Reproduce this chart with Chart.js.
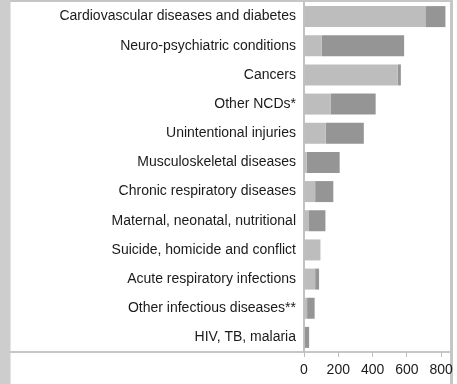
<!DOCTYPE html>
<html>
<head>
<meta charset="utf-8">
<script src="https://cdn.jsdelivr.net/npm/chart.js@4.4.0/dist/chart.umd.min.js"></script>
<style>
    html, body { margin: 0; padding: 0; background: #fff; }
    #wrap { width: 457px; height: 384px; position: relative; }
</style>
</head>
<body>
<div id="wrap"><canvas id="burden-chart" width="457" height="384"></canvas></div>
<script>
const causes = [
    'Cardiovascular diseases and diabetes',
    'Neuro-psychiatric conditions',
    'Cancers',
    'Other NCDs*',
    'Unintentional injuries',
    'Musculoskeletal diseases',
    'Chronic respiratory diseases',
    'Maternal, neonatal, nutritional',
    'Suicide, homicide and conflict',
    'Acute respiratory infections',
    'Other infectious diseases**',
    'HIV, TB, malaria'
];
const yearsLost = [708, 104, 547, 157, 127, 16, 65, 29, 96, 65, 18, 5];
const yearsDisabled = [117, 480, 18, 261, 222, 192, 106, 96, 0, 23, 44, 25];
const xTicks = [0, 200, 400, 600, 800];

// grey frame: left strip, top rule, right rule and the line above the axis
const framePlugin = {
    id: 'frame',
    beforeDraw(chart) {
        const ctx = chart.ctx;
        const bottom = chart.chartArea.bottom;
        ctx.save();
        ctx.fillStyle = '#ffffff';
        ctx.fillRect(0, 0, chart.width, chart.height);
        ctx.fillStyle = '#cdcdcd';
        ctx.fillRect(0, 0, 10, chart.height);
        ctx.fillStyle = '#e4e4e4';
        ctx.fillRect(10, 0, 1, chart.height);
        ctx.fillStyle = '#c6c6c6';
        ctx.fillRect(10, 0, 443, 2);
        ctx.fillRect(450, 0, 3, chart.height);
        ctx.fillRect(10, bottom - 1, 440, 2);
        ctx.restore();
    }
};

new Chart(document.getElementById('burden-chart'), {
    type: 'bar',
    data: {
        labels: causes,
        datasets: [{
            label: 'Years of life lost',
            data: yearsLost,
            backgroundColor: '#bdbdbd',
            borderWidth: 0,
            barPercentage: 0.72,
            categoryPercentage: 1
        }, {
            label: 'Years lived with disability',
            data: yearsDisabled,
            backgroundColor: '#959595',
            borderWidth: 0,
            barPercentage: 0.72,
            categoryPercentage: 1
        }]
    },
    options: {
        indexAxis: 'y',
        responsive: false,
        animation: false,
        layout: { padding: { top: 2, right: 9, left: 0, bottom: 0 } },
        plugins: {
            legend: { display: false },
            tooltip: { enabled: false }
        },
        scales: {
            x: {
                stacked: true,
                min: 0,
                max: 840,
                afterBuildTicks: scale => {
                    scale.ticks = xTicks.map(v => ({ value: v }));
                },
                afterFit: scale => {
                    scale.height = 32;
                    scale.paddingLeft = 0;
                    scale.paddingRight = 0;
                },
                grid: {
                    drawOnChartArea: false,
                    tickLength: 5,
                    color: '#bdbdbd'
                },
                border: { display: false },
                ticks: {
                    padding: 5,
                    color: '#1a1a1a',
                    font: { family: 'Liberation Sans', size: 14 }
                }
            },
            y: {
                stacked: true,
                afterFit: scale => {
                    scale.width = 304;
                    scale.paddingTop = 0;
                    scale.paddingBottom = 0;
                },
                grid: { display: false, drawTicks: false },
                border: { display: true, color: '#c2c2c2', width: 2 },
                ticks: {
                    padding: 8,
                    color: '#1a1a1a',
                    font: { family: 'Liberation Sans', size: 14 }
                }
            }
        }
    },
    plugins: [framePlugin]
});
</script>
</body>
</html>
